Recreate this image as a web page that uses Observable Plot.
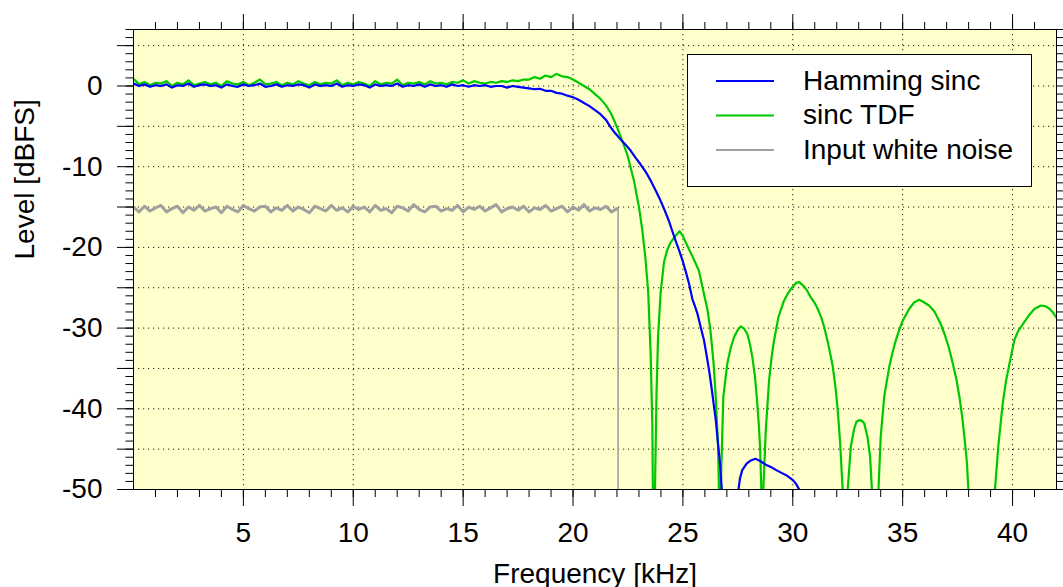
<!DOCTYPE html>
<html><head><meta charset="utf-8">
<script src="https://cdn.jsdelivr.net/npm/d3@7"></script>
<script src="https://cdn.jsdelivr.net/npm/@observablehq/plot@0.6"></script>
<style>
body{margin:0;background:#fff;}
#chart{position:relative;width:1063px;height:587px;overflow:hidden;}
</style>
</head><body><div id="chart"></div>
<script>
// ---- data (kHz, dBFS) ----
const passFreqs = [0,0.25,0.5,0.75,1,1.25,1.5,1.75,2,2.25,2.5,2.75,3,3.25,3.5,3.75,4,4.25,4.5,4.75,5,5.25,5.5,5.75,6,6.25,6.5,6.75,7,7.25,7.5,7.75,8,8.25,8.5,8.75,9,9.25,9.5,9.75,10,10.25,10.5,10.75,11,11.25,11.5,11.75,12,12.25,12.5,12.75,13,13.25,13.5,13.75,14,14.25,14.5,14.75,15,15.25,15.5,15.75,16,16.25,16.5,16.75,17,17.25,17.5,17.75,18,18.25,18.5,18.75,19,19.25,19.5,19.75,20,20.25,20.5,20.75,21,21.25,21.5,21.75,22];

const hammingPass = [0.3,0.0,0.2,-0.1,0.1,0.0,0.2,-0.2, 0.1,0.0,0.3,-0.1,0.1,0.2,0.0,0.1, -0.2,0.2,0.0,-0.1,0.2,0.0,0.1,0.3, -0.1,0.0,0.2,-0.1,0.1,0.0,0.2,0.1, -0.2,0.2,0.0,0.1,0.0,0.3,-0.1,0.1, 0.0,0.2,0.1,-0.2,0.2,0.0,0.1,0.0, 0.3,-0.1,0.1,0.0,0.2,-0.1,0.2,0.0, 0.1,-0.1,0.2,0.0,0.1,-0.1,0.1,0.0, 0.1,-0.1,0.0,0.0,-0.2,0.0,-0.1,-0.2];

const tdfPass = [0.9,0.2,0.5,0.1,0.4,0.3,0.6,0.0, 0.4,0.2,0.7,0.1,0.3,0.5,0.2,0.4, 0.0,0.6,0.3,0.2,0.5,0.1,0.4,0.8, 0.2,0.3,0.5,0.1,0.4,0.2,0.6,0.3, 0.1,0.5,0.2,0.4,0.3,0.7,0.1,0.4, 0.2,0.5,0.3,0.0,0.6,0.2,0.4,0.3, 0.8,0.1,0.4,0.3,0.5,0.2,0.6,0.3, 0.4,0.2,0.5,0.4,0.7,0.3,0.6,0.4, 0.3,0.5,0.4,0.6,0.5,0.7,0.6,0.8];

const noisePass = [-15.0,-15.6,-14.9,-15.5,-15.1,-14.8,-15.6,-15.2, -14.9,-15.7,-15.0,-15.4,-14.8,-15.5,-15.2,-15.0, -15.7,-14.9,-15.3,-15.6,-14.8,-15.2,-15.5,-15.0, -14.9,-15.6,-15.1,-15.4,-14.8,-15.5,-15.0,-15.3, -15.7,-14.9,-15.2,-15.5,-14.8,-15.4,-15.1,-15.6, -14.9,-15.3,-15.0,-15.6,-14.8,-15.4,-15.2,-15.7, -14.9,-15.1,-15.5,-14.7,-15.3,-15.6,-15.0,-14.9, -15.5,-15.2,-15.4,-14.8,-15.6,-15.0,-15.3,-14.9, -15.5,-15.1,-14.7,-15.6,-15.2,-15.0,-15.4,-14.9, -15.6,-15.1,-15.3,-14.8,-15.5,-15.2,-14.9,-15.6, -15.0,-15.4,-14.7,-15.5,-15.1,-15.3,-14.9,-15.6, -15.2];

const hammingTail = [[18,-0.3],[18.25,-0.4],[18.5,-0.35],[18.75,-0.6],[19,-0.6],[19.25,-0.85],[19.5,-0.95],[19.75,-1.2],[20,-1.4],[20.25,-1.7],[20.5,-2.1],[20.75,-2.5],[21,-3.0],[21.25,-3.5],[21.5,-4.2],[21.71,-5.1],[21.9,-5.8],[22.16,-6.6],[22.4,-7.3],[22.62,-8.0],[22.85,-8.9],[23.07,-9.7],[23.3,-10.6],[23.53,-11.7],[23.75,-12.9],[23.98,-14.2],[24.17,-15.4],[24.36,-16.7],[24.52,-18.0],[24.67,-19.2],[24.82,-20.3],[24.98,-21.6],[25.13,-23.0],[25.28,-24.5],[25.43,-26.4],[25.55,-27.3],[25.66,-28.2],[25.81,-29.9],[25.96,-31.5],[26.08,-33.4],[26.19,-35.2],[26.3,-37.3],[26.4,-39.4],[26.5,-41.5],[26.57,-43.5],[26.63,-45.2],[26.69,-46.8],[26.77,-50],[26.85,-53],[27.15,-60],[27.45,-53],[27.53,-50],[27.6,-48.6],[27.7,-47.6],[27.9,-46.8],[28.09,-46.4],[28.3,-46.2],[28.54,-46.5],[28.75,-46.9],[29.0,-47.2],[29.25,-47.6],[29.53,-48.0],[29.75,-48.3],[29.99,-48.8],[30.15,-49.3],[30.29,-50],[30.6,-53]];

const tdfTail = [[18,0.8],[18.25,1.1],[18.5,0.9],[18.75,1.3],[19,1.1],[19.25,1.5],[19.5,1.2],[19.75,1.1],[20,0.8],[20.25,0.4],[20.5,0.0],[20.75,-0.4],[21,-1.0],[21.25,-1.6],[21.5,-2.4],[21.75,-3.5],[22,-5.1],[22.2,-6.5],[22.47,-8.5],[22.77,-11.7],[23.0,-15.0],[23.15,-17.8],[23.3,-21.5],[23.42,-25.5],[23.53,-33.0],[23.61,-42.0],[23.66,-60],
[23.73,-50],[23.8,-38],[23.87,-31],[23.99,-25.5],[24.14,-21.8],[24.29,-20.3],[24.44,-19.4],[24.6,-18.8],[24.75,-18.3],[24.85,-18.0],[25.0,-18.6],[25.2,-19.8],[25.45,-21.2],[25.73,-22.9],[25.96,-25.8],[26.11,-27.6],[26.25,-30.2],[26.4,-34.5],[26.5,-38.8],[26.6,-44.7],[26.64,-50],[26.68,-60],
[26.72,-50],[26.84,-38.5],[27.02,-34.4],[27.18,-32.4],[27.33,-31.1],[27.5,-30.2],[27.63,-29.8],[27.8,-30.1],[27.94,-30.8],[28.05,-32.0],[28.16,-33.6],[28.27,-35.8],[28.36,-38.5],[28.45,-41.8],[28.51,-44.7],[28.57,-50],[28.61,-60],
[28.66,-50],[28.77,-42.7],[28.92,-36.5],[29.05,-33.3],[29.15,-31.5],[29.35,-28.6],[29.6,-26.6],[29.8,-25.6],[29.99,-24.9],[30.15,-24.4],[30.29,-24.3],[30.5,-24.8],[30.66,-25.4],[30.82,-26.2],[31.0,-26.9],[31.13,-27.6],[31.3,-28.7],[31.43,-29.9],[31.6,-31.8],[31.81,-34.6],[31.95,-37.5],[32.04,-40.0],[32.15,-44.0],[32.27,-50],[32.38,-60],
[32.5,-50],[32.64,-44.7],[32.79,-42.5],[32.9,-41.6],[33.02,-41.4],[33.15,-41.5],[33.25,-41.8],[33.4,-43.5],[33.52,-46.0],[33.6,-50],[33.75,-60],
[33.9,-50],[34.0,-43.5],[34.16,-38.5],[34.39,-34.8],[34.55,-32.9],[34.69,-31.5],[34.85,-30.2],[35.0,-29.1],[35.3,-27.6],[35.53,-26.8],[35.75,-26.5],[35.91,-26.7],[36.2,-27.2],[36.44,-27.9],[36.7,-29.3],[36.9,-30.7],[37.1,-32.4],[37.28,-34.4],[37.45,-36.4],[37.58,-38.5],[37.7,-40.8],[37.81,-43.5],[37.92,-46.5],[37.99,-50],[38.6,-65],
[39.2,-50],[39.35,-44.7],[39.55,-39.4],[39.7,-36.6],[39.86,-34.4],[40.08,-31.5],[40.25,-30.4],[40.47,-29.5],[40.75,-28.4],[41.0,-27.6],[41.3,-27.2],[41.5,-27.3],[41.68,-27.6],[41.85,-28.1],[42.0,-28.7]];

const noiseTail = [[22.05,-15.2],[22.05,-60]];

const xTickValues = [5,10,15,20,25,30,35,40];
const yLabelValues = [-50,-40,-30,-20,-10,0];
const yFiveValues = [-45,-35,-25,-15,-5,5];
const seriesNames = ["Hamming sinc","sinc TDF","Input white noise"];
const seriesColors = ["#0000ff","#00c800","#a0a0a0"];

// ---- build tables ----
function build(pass, tail) {
  const rows = pass.map((v, i) => ({f: passFreqs[i], db: v}));
  return rows.concat(tail.map(([f, db]) => ({f, db})));
}
const hamming = build(hammingPass, hammingTail);
const tdf = build(tdfPass, tdfTail);
const noiseFlat = build(noisePass, []);
const noiseDrop = noiseTail.map(([f, db]) => ({f, db}));

const fontFamily = "'Liberation Sans', Arial, Helvetica, sans-serif";
const xMinor = d3.range(1, 42, 1);
const yMinor = d3.range(-50, 8, 1);
const blank = () => "";
const hyphen = d => `${d}`;
const gridStyle = {stroke: "#000", strokeOpacity: 0.9, strokeDasharray: "1.2,3.8", strokeWidth: 1};

const plot = Plot.plot({
  width: 1063, height: 587,
  marginLeft: 133, marginRight: 7, marginTop: 29, marginBottom: 98,
  x: {domain: [0, 42]},
  y: {domain: [-50, 7]},
  style: {fontFamily, fontSize: "28px", background: "transparent", color: "#000", overflow: "visible"},
  marks: [
    Plot.frame({fill: "#ffffcc", stroke: "none"}),
    Plot.gridX(xTickValues, gridStyle),
    Plot.gridY(d3.sort(yLabelValues.concat(yFiveValues).filter(v => v !== -50)), gridStyle),
    Plot.line(noiseFlat, {x: "f", y: "db", stroke: seriesColors[2], strokeWidth: 3, strokeLinejoin: "round", clip: true}),
    Plot.line(noiseDrop, {x: "f", y: "db", stroke: seriesColors[2], strokeWidth: 1.6, clip: true}),
    Plot.line(tdf, {x: "f", y: "db", stroke: seriesColors[1], strokeWidth: 2.2, strokeLinejoin: "round", clip: true}),
    Plot.line(hamming, {x: "f", y: "db", stroke: seriesColors[0], strokeWidth: 2.2, strokeLinejoin: "round", clip: true}),
    Plot.frame({stroke: "#000", strokeWidth: 1}),
    Plot.axisX(xTickValues, {anchor: "bottom", tickSize: 17, tickPadding: 15.5, tickFormat: hyphen, label: null}),
    Plot.axisX(xMinor, {anchor: "bottom", tickSize: 8, tickFormat: blank, label: null}),
    Plot.axisX(xTickValues, {anchor: "top", tickSize: 16, tickFormat: blank, label: null}),
    Plot.axisX(xMinor, {anchor: "top", tickSize: 8, tickFormat: blank, label: null}),
    Plot.axisY(yLabelValues, {anchor: "left", tickSize: 16, tickPadding: 15, tickFormat: hyphen, label: null}),
    Plot.axisY(yFiveValues, {anchor: "left", tickSize: 16, tickFormat: blank, label: null}),
    Plot.axisY(yMinor, {anchor: "left", tickSize: 7.5, tickFormat: blank, label: null}),
    Plot.axisY(yMinor, {anchor: "right", tickSize: 8, tickFormat: blank, label: null}),
    Plot.text(["Frequency [kHz]"], {frameAnchor: "bottom", dy: 93, lineAnchor: "bottom", fontSize: 28}),
    Plot.text(["Level [dBFS]"], {frameAnchor: "left", dx: -100, rotate: -90, lineAnchor: "bottom", fontSize: 28})
  ]
});
document.getElementById("chart").appendChild(plot);

// ---- legend (inside plot area, top right) ----
const svg = d3.select(plot);
const lg = svg.append("g").attr("font-family", fontFamily).attr("font-size", 28).attr("text-anchor", "start");
lg.append("rect").attr("x", 687.5).attr("y", 54.5).attr("width", 344).attr("height", 132)
  .attr("fill", "#fff").attr("stroke", "#000").attr("stroke-width", 1);
const lineYs = [81, 115.5, 150];
seriesNames.forEach((name, i) => {
  lg.append("line").attr("x1", 716).attr("x2", 774).attr("y1", lineYs[i]).attr("y2", lineYs[i])
    .attr("stroke", seriesColors[i]).attr("stroke-width", 2);
  lg.append("text").attr("x", 803).attr("y", lineYs[i] + 8.5).attr("text-anchor", "start")
    .attr("fill", "#000").text(name);
});
</script>
</body></html>
